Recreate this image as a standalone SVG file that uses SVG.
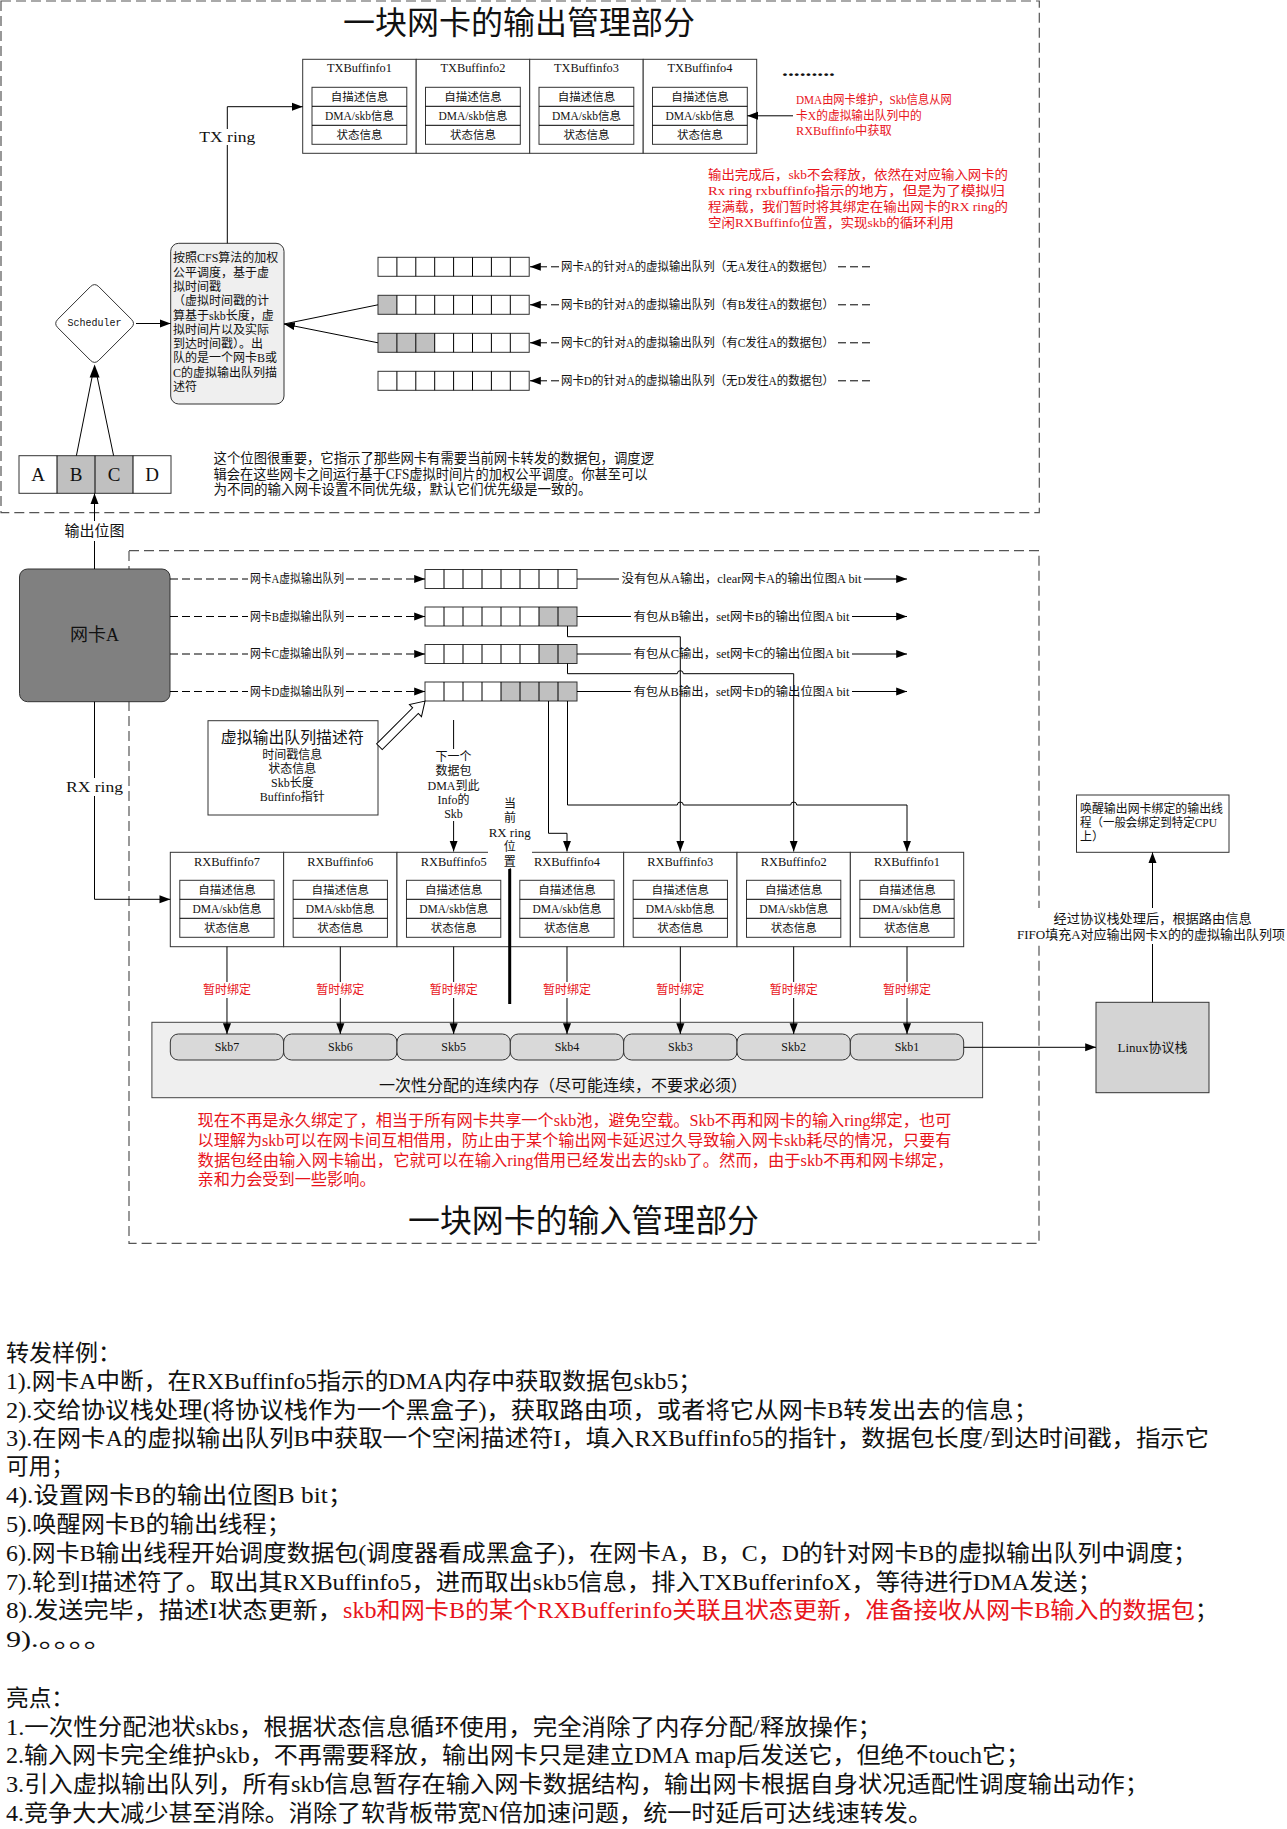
<svg xmlns="http://www.w3.org/2000/svg" width="1287" height="1829" viewBox="0 0 1287 1829">
<defs>
<style>
text{font-family:'Liberation Serif','Noto Sans CJK SC',serif;fill:#111;dominant-baseline:central}
.m{text-anchor:middle}
.r{fill:#e8141b}
.ln{fill:none;stroke:#000;stroke-width:1}
.bx{fill:#fff;stroke:#333;stroke-width:1}
.bn{fill:none;stroke:#333;stroke-width:1}
.dsh{fill:none;stroke:#555;stroke-width:1.2;stroke-dasharray:10 5}
.da{fill:none;stroke:#000;stroke-width:1;stroke-dasharray:8 4}
.gc{fill:#c0c0c0;stroke:none}
.bg{fill:#fff;stroke:none}
.f10{font-size:10px}
.f11{font-size:11.5px}
.f12{font-size:12px}
.f13{font-size:13px}
.f14{font-size:14px}
.f16{font-size:16px}
.f23{font-size:23px}
.ttl{font-size:32px}
.mono{font-family:'Liberation Mono',monospace}
</style>
<marker id="ah" viewBox="0 0 12 10" refX="12" refY="5" markerWidth="11" markerHeight="9" markerUnits="userSpaceOnUse" orient="auto"><path d="M0,0.5L12,5L0,9.5z" fill="#000"/></marker>
</defs>
<rect x="0" y="0" width="1287" height="1829" fill="#fff"/>

<!-- frames -->
<g id="frame-output"><rect class="dsh" x="1" y="1" width="1038.3" height="511.7"/></g>
<g id="frame-input"><rect class="dsh" x="129" y="550.7" width="910" height="692.6"/></g>

<g id="title-output"><text class="m ttl" x="519" y="23" textLength="352" lengthAdjust="spacingAndGlyphs">一块网卡的输出管理部分</text></g>

<!-- TX buffers -->
<g id="tx-buffinfo1">
<rect class="bx" x="302.7" y="59.3" width="113.5" height="94"/>
<text class="m f12" x="359.45" y="68.3" textLength="65" lengthAdjust="spacingAndGlyphs">TXBuffinfo1</text>
<rect class="bx" x="312" y="87.3" width="94.8" height="57"/>
<path class="ln" d="M312,106.3h94.8M312,125.3h94.8"/>
<text class="m f11" x="359.4" y="96.8">自描述信息</text>
<text class="m f11" x="359.4" y="115.8">DMA/skb信息</text>
<text class="m f11" x="359.4" y="134.8">状态信息</text>
</g>
<g id="tx-buffinfo2">
<rect class="bx" x="416.2" y="59.3" width="113.5" height="94"/>
<text class="m f12" x="472.95" y="68.3" textLength="65" lengthAdjust="spacingAndGlyphs">TXBuffinfo2</text>
<rect class="bx" x="425.5" y="87.3" width="94.8" height="57"/>
<path class="ln" d="M425.5,106.3h94.8M425.5,125.3h94.8"/>
<text class="m f11" x="472.9" y="96.8">自描述信息</text>
<text class="m f11" x="472.9" y="115.8">DMA/skb信息</text>
<text class="m f11" x="472.9" y="134.8">状态信息</text>
</g>
<g id="tx-buffinfo3">
<rect class="bx" x="529.7" y="59.3" width="113.5" height="94"/>
<text class="m f12" x="586.45" y="68.3" textLength="65" lengthAdjust="spacingAndGlyphs">TXBuffinfo3</text>
<rect class="bx" x="539" y="87.3" width="94.8" height="57"/>
<path class="ln" d="M539,106.3h94.8M539,125.3h94.8"/>
<text class="m f11" x="586.4" y="96.8">自描述信息</text>
<text class="m f11" x="586.4" y="115.8">DMA/skb信息</text>
<text class="m f11" x="586.4" y="134.8">状态信息</text>
</g>
<g id="tx-buffinfo4">
<rect class="bx" x="643.2" y="59.3" width="113.5" height="94"/>
<text class="m f12" x="699.95" y="68.3" textLength="65" lengthAdjust="spacingAndGlyphs">TXBuffinfo4</text>
<rect class="bx" x="652.5" y="87.3" width="94.8" height="57"/>
<path class="ln" d="M652.5,106.3h94.8M652.5,125.3h94.8"/>
<text class="m f11" x="699.9" y="96.8">自描述信息</text>
<text class="m f11" x="699.9" y="115.8">DMA/skb信息</text>
<text class="m f11" x="699.9" y="134.8">状态信息</text>
</g>
<g id="tx-more"><text x="782" y="76" style="font-size:16px;font-weight:bold;dominant-baseline:auto" textLength="53" lengthAdjust="spacingAndGlyphs">.........</text></g>

<g id="note-dma">
<text class="r f12" x="796" y="100" textLength="155.7" lengthAdjust="spacingAndGlyphs">DMA由网卡维护，Skb信息从网</text>
<text class="r f12" x="796" y="115.8" textLength="125.7" lengthAdjust="spacingAndGlyphs">卡X的虚拟输出队列中的</text>
<text class="r f12" x="796" y="130.5" textLength="95.7" lengthAdjust="spacingAndGlyphs">RXBuffinfo中获取</text>
</g>
<g id="note-recycle">
<text class="r f13" x="708" y="174" textLength="300" lengthAdjust="spacingAndGlyphs">输出完成后，skb不会释放，依然在对应输入网卡的</text>
<text class="r f13" x="708" y="190.5" textLength="296.7" lengthAdjust="spacingAndGlyphs">Rx ring rxbuffinfo指示的地方，但是为了模拟归</text>
<text class="r f13" x="708" y="206.7" textLength="300" lengthAdjust="spacingAndGlyphs">程满载，我们暂时将其绑定在输出网卡的RX ring的</text>
<text class="r f13" x="708" y="222.5" textLength="245.7" lengthAdjust="spacingAndGlyphs">空闲RXBuffinfo位置，实现skb的循环利用</text>
</g>

<!-- scheduler -->
<g id="scheduler">
<path class="bx" d="M98.8,286.7L131.4,319.3Q135.6,323.5 131.4,327.7L98.8,360.3Q94.6,364.5 90.4,360.3L57.8,327.7Q53.6,323.5 57.8,319.3L90.4,286.7Q94.6,282.5 98.8,286.7Z"/>
<text class="m f10 mono" x="94.6" y="323.5">Scheduler</text>
</g>

<g id="cfs-box">
<rect x="170.7" y="243.3" width="113.3" height="160.7" rx="8" fill="#efefef" stroke="#333"/>
<text class="f12" x="173" y="258.3">按照CFS算法的加权</text>
<text class="f12" x="173" y="272.6">公平调度，基于虚</text>
<text class="f12" x="173" y="286.9">拟时间戳</text>
<text class="f12" x="173" y="301.2">（虚拟时间戳的计</text>
<text class="f12" x="173" y="315.5">算基于skb长度，虚</text>
<text class="f12" x="173" y="329.8">拟时间片以及实际</text>
<text class="f12" x="173" y="344.1">到达时间戳）。出</text>
<text class="f12" x="173" y="358.4">队的是一个网卡B或</text>
<text class="f12" x="173" y="372.7">C的虚拟输出队列描</text>
<text class="f12" x="173" y="387">述符</text>
</g>

<g id="bitmap">
<rect class="gc" x="57" y="455.7" width="76" height="37.6"/>
<rect class="bn" x="19" y="455.7" width="152" height="37.6"/>
<path class="ln" d="M57,455.7v37.6M95,455.7v37.6M133,455.7v37.6"/>
<text class="m" style="font-size:19px" x="38" y="474.5">A</text>
<text class="m" style="font-size:19px" x="76" y="474.5">B</text>
<text class="m" style="font-size:19px" x="114" y="474.5">C</text>
<text class="m" style="font-size:19px" x="152" y="474.5">D</text>
</g>

<g id="note-bitmap">
<text class="f14" x="213.6" y="458.3" textLength="440.4" lengthAdjust="spacingAndGlyphs">这个位图很重要，它指示了那些网卡有需要当前网卡转发的数据包，调度逻</text>
<text class="f14" x="213.6" y="474" textLength="434" lengthAdjust="spacingAndGlyphs">辑会在这些网卡之间运行基于CFS虚拟时间片的加权公平调度。你甚至可以</text>
<text class="f14" x="213.6" y="489.5" textLength="378" lengthAdjust="spacingAndGlyphs">为不同的输入网卡设置不同优先级，默认它们优先级是一致的。</text>
</g>

<!-- top virtual queues -->
<g id="vq-top-a">
<rect class="bn" x="378" y="257.3" width="151.2" height="19"/>
<path class="ln" d="M396.9,257.3v19M415.8,257.3v19M434.7,257.3v19M453.6,257.3v19M472.5,257.3v19M491.4,257.3v19M510.3,257.3v19"/>
</g>
<g id="vq-top-b">
<rect class="gc" x="378" y="295.3" width="18.9" height="19"/>
<rect class="bn" x="378" y="295.3" width="151.2" height="19"/>
<path class="ln" d="M396.9,295.3v19M415.8,295.3v19M434.7,295.3v19M453.6,295.3v19M472.5,295.3v19M491.4,295.3v19M510.3,295.3v19"/>
</g>
<g id="vq-top-c">
<rect class="gc" x="378" y="333.3" width="56.7" height="19"/>
<rect class="bn" x="378" y="333.3" width="151.2" height="19"/>
<path class="ln" d="M396.9,333.3v19M415.8,333.3v19M434.7,333.3v19M453.6,333.3v19M472.5,333.3v19M491.4,333.3v19M510.3,333.3v19"/>
</g>
<g id="vq-top-d">
<rect class="bn" x="378" y="371.3" width="151.2" height="19"/>
<path class="ln" d="M396.9,371.3v19M415.8,371.3v19M434.7,371.3v19M453.6,371.3v19M472.5,371.3v19M491.4,371.3v19M510.3,371.3v19"/>
</g>

<!-- NIC A -->
<g id="nic-a">
<rect x="19.5" y="569" width="150.5" height="132.7" rx="8" fill="#808080" stroke="#333"/>
<text class="m" style="font-size:18px" x="94.5" y="635">网卡A</text>
</g>

<!-- lower virtual queues -->
<g id="vq-low-a">
<rect class="bn" x="425" y="569.5" width="152" height="19"/>
<path class="ln" d="M444,569.5v19M463,569.5v19M482,569.5v19M501,569.5v19M520,569.5v19M539,569.5v19M558,569.5v19"/>
</g>
<g id="vq-low-b">
<rect class="gc" x="539" y="607" width="38" height="19"/>
<rect class="bn" x="425" y="607" width="152" height="19"/>
<path class="ln" d="M444,607v19M463,607v19M482,607v19M501,607v19M520,607v19M539,607v19M558,607v19"/>
</g>
<g id="vq-low-c">
<rect class="gc" x="539" y="644.5" width="38" height="19"/>
<rect class="bn" x="425" y="644.5" width="152" height="19"/>
<path class="ln" d="M444,644.5v19M463,644.5v19M482,644.5v19M501,644.5v19M520,644.5v19M539,644.5v19M558,644.5v19"/>
</g>
<g id="vq-low-d">
<rect class="gc" x="501" y="682" width="76" height="19"/>
<rect class="bn" x="425" y="682" width="152" height="19"/>
<path class="ln" d="M444,682v19M463,682v19M482,682v19M501,682v19M520,682v19M539,682v19M558,682v19"/>
</g>

<g id="desc-box">
<rect class="bx" x="208" y="720.7" width="170" height="94.3"/>
<text class="m f16" x="292.3" y="737.3" textLength="143" lengthAdjust="spacingAndGlyphs">虚拟输出队列描述符</text>
<text class="m f12" x="292.3" y="755">时间戳信息</text>
<text class="m f12" x="292.3" y="769">状态信息</text>
<text class="m f12" x="292.3" y="783.3">Skb长度</text>
<text class="m f12" x="292.3" y="797.3">Buffinfo指针</text>
</g>

<!-- RX buffers -->
<g id="rx-buffinfo7">
<rect class="bx" x="170.3" y="852.3" width="113.34" height="94.4"/>
<text class="m f12" x="226.97" y="861.7" textLength="66" lengthAdjust="spacingAndGlyphs">RXBuffinfo7</text>
<rect class="bx" x="179.8" y="880.3" width="94.3" height="57"/>
<path class="ln" d="M179.8,899.3h94.3M179.8,918.3h94.3"/>
<text class="m f11" x="226.97" y="889.8">自描述信息</text>
<text class="m f11" x="226.97" y="908.8">DMA/skb信息</text>
<text class="m f11" x="226.97" y="927.8">状态信息</text>
</g>
<g id="rx-buffinfo6">
<rect class="bx" x="283.64" y="852.3" width="113.34" height="94.4"/>
<text class="m f12" x="340.31" y="861.7" textLength="66" lengthAdjust="spacingAndGlyphs">RXBuffinfo6</text>
<rect class="bx" x="293.14" y="880.3" width="94.3" height="57"/>
<path class="ln" d="M293.14,899.3h94.3M293.14,918.3h94.3"/>
<text class="m f11" x="340.31" y="889.8">自描述信息</text>
<text class="m f11" x="340.31" y="908.8">DMA/skb信息</text>
<text class="m f11" x="340.31" y="927.8">状态信息</text>
</g>
<g id="rx-buffinfo5">
<rect class="bx" x="396.98" y="852.3" width="113.34" height="94.4"/>
<text class="m f12" x="453.65" y="861.7" textLength="66" lengthAdjust="spacingAndGlyphs">RXBuffinfo5</text>
<rect class="bx" x="406.48" y="880.3" width="94.3" height="57"/>
<path class="ln" d="M406.48,899.3h94.3M406.48,918.3h94.3"/>
<text class="m f11" x="453.65" y="889.8">自描述信息</text>
<text class="m f11" x="453.65" y="908.8">DMA/skb信息</text>
<text class="m f11" x="453.65" y="927.8">状态信息</text>
</g>
<g id="rx-buffinfo4">
<rect class="bx" x="510.32" y="852.3" width="113.34" height="94.4"/>
<text class="m f12" x="566.99" y="861.7" textLength="66" lengthAdjust="spacingAndGlyphs">RXBuffinfo4</text>
<rect class="bx" x="519.82" y="880.3" width="94.3" height="57"/>
<path class="ln" d="M519.82,899.3h94.3M519.82,918.3h94.3"/>
<text class="m f11" x="566.99" y="889.8">自描述信息</text>
<text class="m f11" x="566.99" y="908.8">DMA/skb信息</text>
<text class="m f11" x="566.99" y="927.8">状态信息</text>
</g>
<g id="rx-buffinfo3">
<rect class="bx" x="623.66" y="852.3" width="113.34" height="94.4"/>
<text class="m f12" x="680.33" y="861.7" textLength="66" lengthAdjust="spacingAndGlyphs">RXBuffinfo3</text>
<rect class="bx" x="633.16" y="880.3" width="94.3" height="57"/>
<path class="ln" d="M633.16,899.3h94.3M633.16,918.3h94.3"/>
<text class="m f11" x="680.33" y="889.8">自描述信息</text>
<text class="m f11" x="680.33" y="908.8">DMA/skb信息</text>
<text class="m f11" x="680.33" y="927.8">状态信息</text>
</g>
<g id="rx-buffinfo2">
<rect class="bx" x="737" y="852.3" width="113.34" height="94.4"/>
<text class="m f12" x="793.67" y="861.7" textLength="66" lengthAdjust="spacingAndGlyphs">RXBuffinfo2</text>
<rect class="bx" x="746.5" y="880.3" width="94.3" height="57"/>
<path class="ln" d="M746.5,899.3h94.3M746.5,918.3h94.3"/>
<text class="m f11" x="793.67" y="889.8">自描述信息</text>
<text class="m f11" x="793.67" y="908.8">DMA/skb信息</text>
<text class="m f11" x="793.67" y="927.8">状态信息</text>
</g>
<g id="rx-buffinfo1">
<rect class="bx" x="850.34" y="852.3" width="113.34" height="94.4"/>
<text class="m f12" x="907.01" y="861.7" textLength="66" lengthAdjust="spacingAndGlyphs">RXBuffinfo1</text>
<rect class="bx" x="859.84" y="880.3" width="94.3" height="57"/>
<path class="ln" d="M859.84,899.3h94.3M859.84,918.3h94.3"/>
<text class="m f11" x="907.01" y="889.8">自描述信息</text>
<text class="m f11" x="907.01" y="908.8">DMA/skb信息</text>
<text class="m f11" x="907.01" y="927.8">状态信息</text>
</g>

<!-- skb pool -->
<g id="skb-pool">
<rect x="151.9" y="1022.3" width="830.7" height="75.4" fill="#efefef" stroke="#444"/>
<text class="m f16" x="563" y="1085" textLength="368" lengthAdjust="spacingAndGlyphs">一次性分配的连续内存（尽可能连续，不要求必须）</text>
</g>
<g id="skb7"><rect x="170.3" y="1034" width="113.34" height="26" rx="8" fill="#d9d9d9" stroke="#333"/><text class="m f12" x="226.97" y="1047">Skb7</text></g>
<g id="skb6"><rect x="283.64" y="1034" width="113.34" height="26" rx="8" fill="#d9d9d9" stroke="#333"/><text class="m f12" x="340.31" y="1047">Skb6</text></g>
<g id="skb5"><rect x="396.98" y="1034" width="113.34" height="26" rx="8" fill="#d9d9d9" stroke="#333"/><text class="m f12" x="453.65" y="1047">Skb5</text></g>
<g id="skb4"><rect x="510.32" y="1034" width="113.34" height="26" rx="8" fill="#d9d9d9" stroke="#333"/><text class="m f12" x="566.99" y="1047">Skb4</text></g>
<g id="skb3"><rect x="623.66" y="1034" width="113.34" height="26" rx="8" fill="#d9d9d9" stroke="#333"/><text class="m f12" x="680.33" y="1047">Skb3</text></g>
<g id="skb2"><rect x="737" y="1034" width="113.34" height="26" rx="8" fill="#d9d9d9" stroke="#333"/><text class="m f12" x="793.67" y="1047">Skb2</text></g>
<g id="skb1"><rect x="850.34" y="1034" width="113.34" height="26" rx="8" fill="#d9d9d9" stroke="#333"/><text class="m f12" x="907.01" y="1047">Skb1</text></g>

<g id="linux-stack">
<rect x="1096" y="1002.3" width="113" height="90.4" fill="#d4d4d4" stroke="#333"/>
<text class="m f13" x="1152.5" y="1047.5">Linux协议栈</text>
</g>

<g id="wake-box">
<rect class="bx" x="1076.5" y="795" width="152.5" height="57.3"/>
<text class="f12" x="1080" y="809.3" textLength="143" lengthAdjust="spacingAndGlyphs">唤醒输出网卡绑定的输出线</text>
<text class="f12" x="1080" y="822.7" textLength="137" lengthAdjust="spacingAndGlyphs">程（一般会绑定到特定CPU</text>
<text class="f12" x="1080" y="836.5">上）</text>
</g>

<!-- connectors -->
<g id="connectors">
<path class="ln" d="M227.3,243.3V106.7H302.7" marker-end="url(#ah)"/>
<path class="ln" d="M136,323.5H170.7" marker-end="url(#ah)"/>
<path class="ln" d="M76.4,455.7L92.2,376.5M113.6,455.7L97.1,376.5"/>
<polygon points="94.6,364.5 89.6,377.5 99.6,377.5" fill="#000"/>
<path class="ln" d="M378,304.8L284,324"/>
<path class="ln" d="M378,342.8L284,324" marker-end="url(#ah)"/>
<path class="ln" d="M793,115.8H747.3" marker-end="url(#ah)"/>
<!-- top queue labels -->
<path class="ln" d="M559,266.8H530" marker-end="url(#ah)" stroke-dasharray="8 4"/>
<path class="da" d="M838,266.8H870"/>
<path class="ln" d="M559,304.8H530" marker-end="url(#ah)" stroke-dasharray="8 4"/>
<path class="da" d="M838,304.8H870"/>
<path class="ln" d="M559,342.8H530" marker-end="url(#ah)" stroke-dasharray="8 4"/>
<path class="da" d="M838,342.8H870"/>
<path class="ln" d="M559,380.8H530" marker-end="url(#ah)" stroke-dasharray="8 4"/>
<path class="da" d="M838,380.8H870"/>
<text class="m f12" x="697.5" y="266.8" textLength="273" lengthAdjust="spacingAndGlyphs">网卡A的针对A的虚拟输出队列（无A发往A的数据包）</text>
<text class="m f12" x="697.5" y="304.8" textLength="273" lengthAdjust="spacingAndGlyphs">网卡B的针对A的虚拟输出队列（有B发往A的数据包）</text>
<text class="m f12" x="697.5" y="342.8" textLength="273" lengthAdjust="spacingAndGlyphs">网卡C的针对A的虚拟输出队列（有C发往A的数据包）</text>
<text class="m f12" x="697.5" y="380.8" textLength="273" lengthAdjust="spacingAndGlyphs">网卡D的针对A的虚拟输出队列（无D发往A的数据包）</text>
<!-- TX ring label -->
<rect class="bg" x="198" y="129" width="59" height="16"/>
<text class="m f14" x="227.3" y="137" textLength="56" lengthAdjust="spacingAndGlyphs">TX ring</text>
<!-- output bitmap arrow -->
<path class="ln" d="M94.5,569V493.3" marker-end="url(#ah)"/>
<rect class="bg" x="60" y="521" width="69" height="20"/>
<text class="m" style="font-size:15px" x="94.5" y="530.7">输出位图</text>
<!-- RX ring arrow -->
<path class="ln" d="M94.5,701.7V899.3H170.3" marker-end="url(#ah)"/>
<rect class="bg" x="63" y="778" width="63" height="18"/>
<text class="m f14" x="94.5" y="787.3" textLength="57" lengthAdjust="spacingAndGlyphs">RX ring</text>
<!-- NIC to lower queues -->
<path class="da" d="M170,579H248"/><path class="ln" d="M346,579H425" stroke-dasharray="8 4" marker-end="url(#ah)"/>
<path class="da" d="M170,616.5H248"/><path class="ln" d="M346,616.5H425" stroke-dasharray="8 4" marker-end="url(#ah)"/>
<path class="da" d="M170,654H248"/><path class="ln" d="M346,654H425" stroke-dasharray="8 4" marker-end="url(#ah)"/>
<path class="da" d="M170,691.5H248"/><path class="ln" d="M346,691.5H425" stroke-dasharray="8 4" marker-end="url(#ah)"/>
<text class="m f12" x="297" y="579" textLength="94" lengthAdjust="spacingAndGlyphs">网卡A虚拟输出队列</text>
<text class="m f12" x="297" y="616.5" textLength="94" lengthAdjust="spacingAndGlyphs">网卡B虚拟输出队列</text>
<text class="m f12" x="297" y="654" textLength="94" lengthAdjust="spacingAndGlyphs">网卡C虚拟输出队列</text>
<text class="m f12" x="297" y="691.5" textLength="94" lengthAdjust="spacingAndGlyphs">网卡D虚拟输出队列</text>
<!-- lower queue outputs -->
<path class="ln" d="M577,579H619"/><path class="ln" d="M864,579H907" marker-end="url(#ah)"/>
<path class="ln" d="M577,616.5H631"/><path class="ln" d="M852,616.5H907" marker-end="url(#ah)"/>
<path class="ln" d="M577,654H631"/><path class="ln" d="M852,654H907" marker-end="url(#ah)"/>
<path class="ln" d="M577,691.5H631"/><path class="ln" d="M852,691.5H907" marker-end="url(#ah)"/>
<!-- queue to rx buffers -->
<path class="ln" d="M567.5,626V636.7H680.3V851.5" marker-end="url(#ah)"/>
<path class="ln" d="M567.5,663.5V673.7H677.3A3,3 0 0 1 683.3,673.7H793.7V851.5" marker-end="url(#ah)"/>
<path class="ln" d="M548.5,701V833.3H567V851.5" marker-end="url(#ah)"/>
<path class="ln" d="M567.5,701V805H677.3A3,3 0 0 1 683.3,805H790.7A3,3 0 0 1 796.7,805H907V851.5" marker-end="url(#ah)"/>
<text class="m f12" x="741.5" y="579" textLength="240" lengthAdjust="spacingAndGlyphs">没有包从A输出，clear网卡A的输出位图A bit</text>
<text class="m f12" x="741.5" y="616.5" textLength="216" lengthAdjust="spacingAndGlyphs">有包从B输出，set网卡B的输出位图A bit</text>
<text class="m f12" x="741.5" y="654" textLength="216" lengthAdjust="spacingAndGlyphs">有包从C输出，set网卡C的输出位图A bit</text>
<text class="m f12" x="741.5" y="691.5" textLength="216" lengthAdjust="spacingAndGlyphs">有包从B输出，set网卡D的输出位图A bit</text>
<!-- descriptor hollow arrow -->
<polygon transform="translate(379.4,746.7) rotate(-45)" points="0,-4 51,-4 51,-8.5 64.5,0 51,8.5 51,4 0,4" fill="#fff" stroke="#000"/>
<!-- next packet -->
<path class="ln" d="M453.6,720V851.5" marker-end="url(#ah)"/>
<rect class="bg" x="430" y="749" width="47" height="72"/>
<text class="m f12" x="453.5" y="756.7">下一个</text>
<text class="m f12" x="453.5" y="771">数据包</text>
<text class="m f12" x="453.5" y="785.5">DMA到此</text>
<text class="m f12" x="453.5" y="800">Info的</text>
<text class="m f12" x="453.5" y="814.3">Skb</text>
<!-- current RX ring position -->
<rect class="bg" x="488" y="826" width="44" height="42"/>
<text class="m f12" x="510" y="804">当</text>
<text class="m f12" x="510" y="818.3">前</text>
<text class="m f12" x="509.7" y="833.3" textLength="42" lengthAdjust="spacingAndGlyphs">RX ring</text>
<text class="m f12" x="509.7" y="847.3">位</text>
<text class="m f12" x="509.7" y="861.7">置</text>
<path d="M509.7,869V1004" stroke="#000" stroke-width="3" fill="none"/>
<!-- bind arrows -->
<path class="ln" d="M226.97,946.7V1034" marker-end="url(#ah)"/>
<path class="ln" d="M340.31,946.7V1034" marker-end="url(#ah)"/>
<path class="ln" d="M453.65,946.7V1034" marker-end="url(#ah)"/>
<path class="ln" d="M566.99,946.7V1034" marker-end="url(#ah)"/>
<path class="ln" d="M680.33,946.7V1034" marker-end="url(#ah)"/>
<path class="ln" d="M793.67,946.7V1034" marker-end="url(#ah)"/>
<path class="ln" d="M907.01,946.7V1034" marker-end="url(#ah)"/>
<rect class="bg" x="203" y="982" width="48" height="16"/>
<rect class="bg" x="316.3" y="982" width="48" height="16"/>
<rect class="bg" x="429.6" y="982" width="48" height="16"/>
<rect class="bg" x="543" y="982" width="48" height="16"/>
<rect class="bg" x="656.3" y="982" width="48" height="16"/>
<rect class="bg" x="769.7" y="982" width="48" height="16"/>
<rect class="bg" x="883" y="982" width="48" height="16"/>
<text class="m f12 r" x="226.97" y="990">暂时绑定</text>
<text class="m f12 r" x="340.31" y="990">暂时绑定</text>
<text class="m f12 r" x="453.65" y="990">暂时绑定</text>
<text class="m f12 r" x="566.99" y="990">暂时绑定</text>
<text class="m f12 r" x="680.33" y="990">暂时绑定</text>
<text class="m f12 r" x="793.67" y="990">暂时绑定</text>
<text class="m f12 r" x="907.01" y="990">暂时绑定</text>
<!-- skb to linux, linux to wake -->
<path class="ln" d="M963.7,1047.3H1096" marker-end="url(#ah)"/>
<path class="ln" d="M1152.5,1002.3V852.3" marker-end="url(#ah)"/>
<rect class="bg" x="1015" y="908" width="272" height="36"/>
<text class="m f13" x="1152.6" y="918.7" textLength="198" lengthAdjust="spacingAndGlyphs">经过协议栈处理后，根据路由信息</text>
<text class="m f13" x="1151" y="934.3" textLength="268" lengthAdjust="spacingAndGlyphs">FIFO填充A对应输出网卡X的的虚拟输出队列项</text>
</g>

<g id="note-pool">
<text class="r f16" x="197.6" y="1120" textLength="753.7" lengthAdjust="spacingAndGlyphs">现在不再是永久绑定了，相当于所有网卡共享一个skb池，避免空载。Skb不再和网卡的输入ring绑定，也可</text>
<text class="r f16" x="197.6" y="1140.3" textLength="753.7" lengthAdjust="spacingAndGlyphs">以理解为skb可以在网卡间互相借用，防止由于某个输出网卡延迟过久导致输入网卡skb耗尽的情况，只要有</text>
<text class="r f16" x="197.6" y="1160" textLength="756" lengthAdjust="spacingAndGlyphs">数据包经由输入网卡输出，它就可以在输入ring借用已经发出去的skb了。然而，由于skb不再和网卡绑定，</text>
<text class="r f16" x="197.6" y="1179.5" textLength="178" lengthAdjust="spacingAndGlyphs">亲和力会受到一些影响。</text>
</g>

<g id="title-input"><text class="m ttl" x="583.5" y="1221" textLength="351" lengthAdjust="spacingAndGlyphs">一块网卡的输入管理部分</text></g>

<g id="text-example">
<text class="f23" x="6" y="1353.3" textLength="115" lengthAdjust="spacingAndGlyphs">转发样例：</text>
<text class="f23" x="6" y="1381.7" textLength="696" lengthAdjust="spacingAndGlyphs">1).网卡A中断，在RXBuffinfo5指示的DMA内存中获取数据包skb5；</text>
<text class="f23" x="6" y="1410" textLength="1032" lengthAdjust="spacingAndGlyphs">2).交给协议栈处理(将协议栈作为一个黑盒子)，获取路由项，或者将它从网卡B转发出去的信息；</text>
<text class="f23" x="6" y="1438.3" textLength="1203" lengthAdjust="spacingAndGlyphs">3).在网卡A的虚拟输出队列B中获取一个空闲描述符I，填入RXBuffinfo5的指针，数据包长度/到达时间戳，指示它</text>
<text class="f23" x="6" y="1466.7" textLength="68" lengthAdjust="spacingAndGlyphs">可用；</text>
<text class="f23" x="6" y="1495.7" textLength="347" lengthAdjust="spacingAndGlyphs">4).设置网卡B的输出位图B bit；</text>
<text class="f23" x="6" y="1524.3" textLength="285" lengthAdjust="spacingAndGlyphs">5).唤醒网卡B的输出线程；</text>
<text class="f23" x="6" y="1553.3" textLength="1191" lengthAdjust="spacingAndGlyphs">6).网卡B输出线程开始调度数据包(调度器看成黑盒子)，在网卡A，B，C，D的针对网卡B的虚拟输出队列中调度；</text>
<text class="f23" x="6" y="1582.3" textLength="1096" lengthAdjust="spacingAndGlyphs">7).轮到I描述符了。取出其RXBuffinfo5，进而取出skb5信息，排入TXBufferinfoX，等待进行DMA发送；</text>
<text class="f23" x="6" y="1610" textLength="337" lengthAdjust="spacingAndGlyphs">8).发送完毕，描述I状态更新，</text>
<text class="f23 r" x="343" y="1610" textLength="852" lengthAdjust="spacingAndGlyphs">skb和网卡B的某个RXBufferinfo关联且状态更新，准备接收从网卡B输入的数据包</text>
<text class="f23" x="1195" y="1610">；</text>
<text class="f23" x="6" y="1639.5" textLength="108" lengthAdjust="spacingAndGlyphs">9).。。。。</text>
</g>

<g id="text-highlights">
<text class="f23" x="6" y="1698.5" textLength="68" lengthAdjust="spacingAndGlyphs">亮点：</text>
<text class="f23" x="6" y="1727" textLength="876" lengthAdjust="spacingAndGlyphs">1.一次性分配池状skbs，根据状态信息循环使用，完全消除了内存分配/释放操作；</text>
<text class="f23" x="6" y="1755.5" textLength="1024" lengthAdjust="spacingAndGlyphs">2.输入网卡完全维护skb，不再需要释放，输出网卡只是建立DMA map后发送它，但绝不touch它；</text>
<text class="f23" x="6" y="1784.5" textLength="1143" lengthAdjust="spacingAndGlyphs">3.引入虚拟输出队列，所有skb信息暂存在输入网卡数据结构，输出网卡根据自身状况适配性调度输出动作；</text>
<text class="f23" x="6" y="1813" textLength="926" lengthAdjust="spacingAndGlyphs">4.竞争大大减少甚至消除。消除了软背板带宽N倍加速问题，统一时延后可达线速转发。</text>
</g>
</svg>
